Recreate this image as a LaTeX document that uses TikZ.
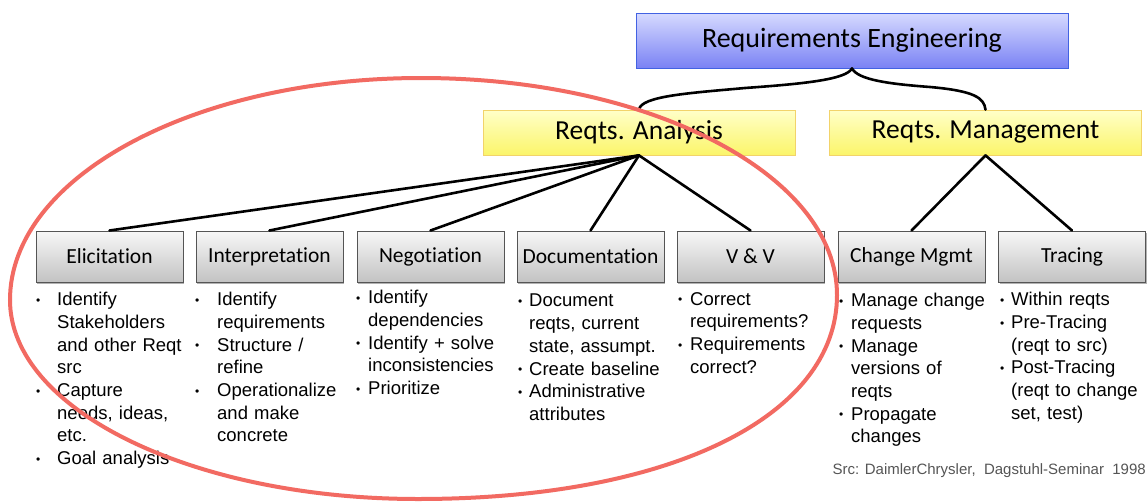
\documentclass[tikz,border=0pt]{standalone}
\usepackage{fontspec}
\setmainfont{Liberation Sans}
\newfontfamily\boxfont{Carlito}[Ligatures={NoCommon}]
\usetikzlibrary{shadows}

\definecolor{blueTop}{HTML}{D6DAFF}
\definecolor{blueBot}{HTML}{7A82F4}
\definecolor{blueLine}{HTML}{4262E2}
\definecolor{yelTop}{HTML}{FFFFC8}
\definecolor{yelBot}{HTML}{FBF56A}
\definecolor{yelLine}{HTML}{F2D36A}
\definecolor{greyTop}{HTML}{F7F7F7}
\definecolor{greyBot}{HTML}{C3C3C3}
\definecolor{greyLine}{HTML}{555555}
\definecolor{ringRed}{HTML}{F26A62}
\definecolor{srcGrey}{HTML}{555555}

% bullet entry with hanging indent: #1 = indent in pt, #2 = text
\newcommand\bulletmark{{\fontsize{12}{12}\selectfont\raisebox{1.2pt}{•}}}
\newcommand\bul[2]{\noindent\hangindent=#1pt\hangafter=1\makebox[#1pt][l]{\bulletmark}#2\par}

\begin{document}
\begin{tikzpicture}[x=1pt,y=-1pt,
  topbox/.style={draw=blueLine, line width=0.8pt, shading=axis, top color=blueTop, bottom color=blueBot,
    minimum width=432pt, minimum height=55pt, inner sep=0pt, font=\boxfont\fontsize{28}{28}\selectfont},
  midbox/.style={draw=yelLine, line width=0.8pt, shading=axis, top color=yelTop, bottom color=yelBot,
    minimum width=312pt, minimum height=45pt, inner sep=0pt, font=\boxfont\fontsize{27.5}{27.5}\selectfont},
  leafbox/.style={draw=greyLine, line width=1pt, shading=axis, top color=greyTop, bottom color=greyBot,
    minimum width=147pt, minimum height=51pt, inner sep=0pt, font=\boxfont\fontsize{21.5}{21.5}\selectfont,
    drop shadow={shadow xshift=1.2pt, shadow yshift=-1.5pt, opacity=0.3, fill=black}},
  bullets/.style={anchor=north west, inner sep=0pt, text width=150pt, align=left,
    font=\fontsize{18.5}{22.7}\selectfont},
  conn/.style={line width=2.6pt, black, line cap=round},
]
\fill[white] (0,0) rectangle (1148,501);
\useasboundingbox (0,0) rectangle (1148,501);

% hierarchy boxes
\node[topbox] (re) at (852,40.5) {Requirements Engineering};
\node[midbox] (ra) at (639,132.5) {Reqts. Analysis};
\node[midbox] (rm) at (985.5,132.5) {Reqts. Management};

\node[leafbox] (eli) at (109.5,256.5) {Elicitation};
\node[leafbox] (int) at (269.5,256.5) {Interpretation};
\node[leafbox] (neg) at (430.5,256.5) {Negotiation};
\node[leafbox] (doc) at (590.5,256.5) {Documentation};
\node[leafbox] (vv)  at (750.5,256.5) {V \& V};
\node[leafbox] (chg) at (911.5,256.5) {Change Mgmt};
\node[leafbox] (trc) at (1072,256.5) {Tracing};

% brace-like links from the root
\coordinate (lmid) at (745,88);
\coordinate (rmid) at (930,87);
\draw[conn] (re.south) .. controls (846,80) and (800,84) .. (lmid)
            .. controls (690,93) and (641,96) .. (ra.north);
\draw[conn] (re.south) .. controls (858,80) and (890,84) .. (rmid)
            .. controls (975,91) and (984,98) .. (rm.north);

% fan-out links
\foreach \leaf in {eli,int,neg,doc,vv}
  \draw[conn] (ra.south) -- (\leaf.north);
\foreach \leaf in {chg,trc}
  \draw[conn] (rm.south) -- (\leaf.north);

% activity descriptions
\node[bullets] (elitext) at (36,292) {%
  \bul{21}{Identify\newline Stakeholders\newline and other Reqt\newline src}%
  \bul{21}{Capture\newline needs, ideas,\newline etc.}%
  \bul{21}{Goal analysis}};
\node[bullets] (inttext) at (195,292) {%
  \bul{22}{Identify\newline requirements}%
  \bul{22}{Structure /\newline refine}%
  \bul{22}{Operationalize\newline and make\newline concrete}};
\node[bullets] (negtext) at (356,290) {%
  \bul{12}{Identify\newline dependencies}%
  \bul{12}{Identify + solve\newline inconsistencies}%
  \bul{12}{Prioritize}};
\node[bullets] (doctext) at (518,294) {%
  \bul{11}{Document\newline reqts, current\newline state, assumpt.}%
  \bul{11}{Create baseline}%
  \bul{11}{Administrative\newline attributes}};
\node[bullets] (vvtext) at (678,292) {%
  \bul{12}{Correct\newline requirements?}%
  \bul{12}{Requirements\newline correct?}};
\node[bullets] (chgtext) at (839,293) {%
  \bul{12}{Manage change\newline requests}%
  \bul{12}{Manage\newline versions of\newline reqts}%
  \bul{12}{Propagate\newline changes}};
\node[bullets] (trctext) at (1000,292) {%
  \bul{11}{Within reqts}%
  \bul{11}{Pre-Tracing\newline (reqt to src)}%
  \bul{11}{Post-Tracing\newline (reqt to change\newline set, test)}};

\node[anchor=east, inner sep=0pt, text=srcGrey, font=\fontsize{15}{15}\selectfont] (src)
  at (1146,471) {Src: DaimlerChrysler,\ \ Dagstuhl-Seminar\ \ 1998};

% highlight ring around the analysis branch: four quarter arcs with their own radii
\draw[ringRed, line width=4pt]
  (421,78) .. controls (651,78) and (837,175) .. (837,295)
           .. controls (837,417) and (669,499) .. (418,499)
           .. controls (193,499) and (10,410) .. (10,300)
           .. controls (10,177) and (194,78) .. cycle;
\end{tikzpicture}
\end{document}
